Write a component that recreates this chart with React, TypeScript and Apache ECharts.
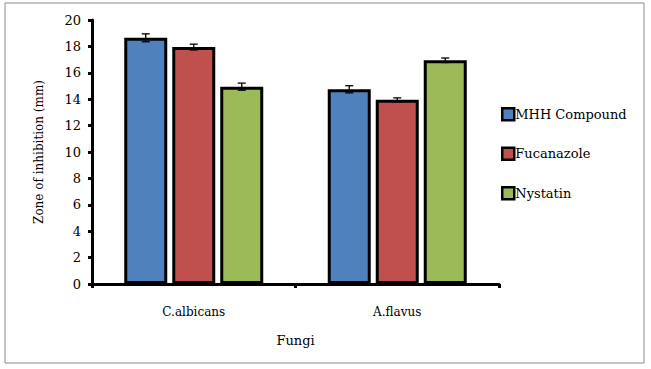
import React, { useEffect, useRef } from "react";
import * as echarts from "echarts";

const categories = ["C.albicans", "A.flavus"];
const seriesNames = ["MHH Compound", "Fucanazole", "Nystatin"];
const mhhValues = [18.65, 14.75];
const fucaValues = [17.95, 13.95];
const nystValues = [14.95, 16.95];
const mhhErrors = [0.3, 0.27];
const fucaErrors = [0.22, 0.15];
const nystErrors = [0.27, 0.17];
const yTicks = [0, 20, 2];

const colors = ["#4F81BD", "#C0504D", "#9BBB59"];
const FONT = "'DejaVu Serif', 'Liberation Serif', serif";

export default function App() {
  const ref = useRef<HTMLDivElement>(null);
  useEffect(() => {
    if (!ref.current) return;
    const chart = echarts.init(ref.current, undefined, { renderer: "svg" });
    const values = [mhhValues, fucaValues, nystValues];
    const errors = [mhhErrors, fucaErrors, nystErrors];
    const barWidth = 43;
    const barStep = 48;

    const barSeries = values.map((vals, i) => ({
      name: seriesNames[i],
      type: "bar",
      data: vals,
      barWidth,
      barGap: ((barStep - barWidth) / barWidth) * 100 + "%",
      itemStyle: { color: colors[i], borderColor: "#000", borderWidth: 3 },
    }));

    const errSeries = values.map((vals, i) => ({
      name: seriesNames[i] + " err",
      type: "custom",
      data: vals.map((v, k) => [k, v - errors[i][k], v + errors[i][k]]),
      renderItem: (params: any, api: any) => {
        const k = api.value(0);
        const lo = api.coord([k, api.value(1)]);
        const hi = api.coord([k, api.value(2)]);
        const x = lo[0] + (i - 1) * barStep;
        const cap = 4;
        const style = { stroke: "#000", lineWidth: 1.3 };
        return {
          type: "group",
          children: [
            { type: "line", shape: { x1: x, y1: lo[1], x2: x, y2: hi[1] }, style },
            { type: "line", shape: { x1: x - cap, y1: lo[1], x2: x + cap, y2: lo[1] }, style },
            { type: "line", shape: { x1: x - cap, y1: hi[1], x2: x + cap, y2: hi[1] }, style },
          ],
        };
      },
      z: 5,
      silent: true,
    }));

    chart.setOption({
      animation: false,
      textStyle: { fontFamily: FONT },
      graphic: [
        {
          type: "rect",
          shape: { x: 5, y: 3, width: 639, height: 360 },
          style: { fill: "none", stroke: "#8c8c8c", lineWidth: 1 },
          silent: true,
        },
      ],
      grid: { left: 92, right: 152, top: 20, bottom: 85 },
      legend: {
        data: seriesNames,
        orient: "vertical",
        left: 496,
        top: 102,
        itemGap: 25,
        itemWidth: 12,
        itemHeight: 12,
        icon: "rect",
        itemStyle: { borderColor: "#000", borderWidth: 2.5 },
        textStyle: { fontFamily: FONT, fontSize: 13, color: "#000", padding: [0, 0, 0, -4] },
      },
      xAxis: {
        type: "category",
        data: categories,
        name: "Fungi",
        nameLocation: "middle",
        nameGap: 50,
        nameTextStyle: { fontFamily: FONT, fontSize: 13, color: "#000" },
        axisLine: { lineStyle: { color: "#000", width: 3 } },
        axisTick: { show: true, length: 4, lineStyle: { color: "#000", width: 3 } },
        axisLabel: { fontFamily: FONT, fontSize: 12, color: "#000", margin: 22 },
      },
      yAxis: {
        type: "value",
        min: yTicks[0],
        max: yTicks[1],
        interval: yTicks[2],
        name: "Zone of inhibition (mm)",
        nameLocation: "middle",
        nameGap: 47,
        nameTextStyle: { fontFamily: FONT, fontSize: 12, color: "#000" },
        axisLine: { show: true, lineStyle: { color: "#000", width: 3 } },
        axisTick: { show: true, length: 4, lineStyle: { color: "#000", width: 3 } },
        axisLabel: { fontFamily: FONT, fontSize: 13, color: "#000", margin: 11 },
        splitLine: { show: false },
      },
      series: [...barSeries, ...errSeries],
    });
    return () => chart.dispose();
  }, []);
  return <div ref={ref} style={{ width: 651, height: 369, position: "absolute", left: 0, top: 0 }} />;
}
